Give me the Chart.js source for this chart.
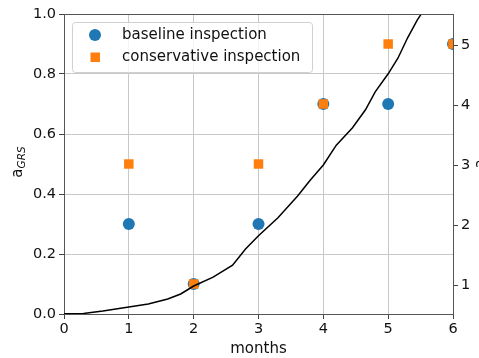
<!DOCTYPE html>
<html>
<head>
<meta charset="utf-8">
<script src="https://cdn.jsdelivr.net/npm/chart.js@4/dist/chart.umd.min.js"></script>
<style>
html,body{margin:0;padding:0;background:#fff;overflow:hidden;}
#wrap{width:479px;height:358px;position:relative;}
</style>
</head>
<body>
<div id="wrap"><canvas id="c" width="479" height="358"></canvas></div>
<script>
// ---- data ----
const months = [1, 2, 3, 4, 5, 6];
const baselineInspection = [0.3, 0.1, 0.3, 0.7, 0.7, 0.9];
const conservativeInspection = [0.5, 0.1, 0.5, 0.7, 0.9, 0.9];
const curveMonths = [0, 0.3, 0.6, 1.0, 1.3, 1.6, 1.8, 2.0, 2.3, 2.6, 2.8, 3.0, 3.3, 3.6, 3.8, 4.0, 4.2, 4.45, 4.65, 4.8, 5.0, 5.15, 5.3, 5.45, 5.55];
const curveValues = [0.52, 0.525, 0.567, 0.633, 0.683, 0.767, 0.85, 0.983, 1.13, 1.33, 1.6, 1.82, 2.12, 2.48, 2.75, 3.0, 3.33, 3.62, 3.92, 4.22, 4.52, 4.78, 5.12, 5.42, 5.58];
const leftTicks = [0, 0.2, 0.4, 0.6, 0.8, 1.0];
const rightTicks = [1, 2, 3, 4, 5];
const xLabel = 'months';
const seriesNames = ['baseline inspection', 'conservative inspection'];

const FONT = "'DejaVu Sans', sans-serif";
const BLUE = '#1f77b4', ORANGE = '#ff7f0e';

const pts = (xs, ys) => xs.map((x, i) => ({x: x, y: ys[i]}));

const extras = {
  id: 'extras',
  afterDatasetsDraw(chart) {
    const ctx = chart.ctx, a = chart.chartArea;
    ctx.save();
    // top spine
    ctx.strokeStyle = '#555'; ctx.lineWidth = 1;
    ctx.beginPath(); ctx.moveTo(a.left, a.top + 0.5); ctx.lineTo(a.right, a.top + 0.5); ctx.stroke();
    // legend
    const lx = 72.5, ly = 22.5, lw = 240, lh = 50, r = 3;
    ctx.fillStyle = 'rgba(255,255,255,0.8)';
    ctx.strokeStyle = '#d0d0d0';
    ctx.beginPath();
    ctx.moveTo(lx + r, ly); ctx.lineTo(lx + lw - r, ly); ctx.arcTo(lx + lw, ly, lx + lw, ly + r, r);
    ctx.lineTo(lx + lw, ly + lh - r); ctx.arcTo(lx + lw, ly + lh, lx + lw - r, ly + lh, r);
    ctx.lineTo(lx + r, ly + lh); ctx.arcTo(lx, ly + lh, lx, ly + lh - r, r);
    ctx.lineTo(lx, ly + r); ctx.arcTo(lx, ly, lx + r, ly, r);
    ctx.closePath(); ctx.fill(); ctx.stroke();
    ctx.fillStyle = BLUE;
    ctx.beginPath(); ctx.arc(95, 35, 6, 0, Math.PI * 2); ctx.fill();
    ctx.fillStyle = ORANGE;
    ctx.fillRect(90.5, 52.5, 9.5, 9.5);
    ctx.fillStyle = '#111';
    ctx.font = '15px ' + FONT;
    ctx.textBaseline = 'middle';
    ctx.fillText(chart.data.datasets[1].label, 122, 35);
    ctx.fillText(chart.data.datasets[2].label, 122, 57);
    // left y title a_GRS
    ctx.save();
    ctx.translate(22, 162);
    ctx.rotate(-Math.PI / 2);
    ctx.textBaseline = 'alphabetic';
    ctx.font = '15px ' + FONT;
    const w1 = ctx.measureText('a').width;
    ctx.font = 'italic 10.5px ' + FONT;
    const w2 = ctx.measureText('GRS').width;
    const sx = -(w1 + w2) / 2;
    ctx.font = '15px ' + FONT;
    ctx.fillText('a', sx, 0);
    ctx.font = 'italic 10.5px ' + FONT;
    ctx.fillText('GRS', sx + w1, 3);
    ctx.restore();
    // right y title (cut off by the edge)
    ctx.save();
    ctx.translate(485, 164);
    ctx.rotate(-Math.PI / 2);
    ctx.textBaseline = 'alphabetic';
    ctx.font = '15px ' + FONT;
    ctx.textAlign = 'center';
    ctx.fillText('a', 0, 0);
    ctx.restore();
    ctx.restore();
  }
};

new Chart(document.getElementById('c'), {
  data: {
    datasets: [
      {type: 'line', label: 'curve', data: pts(curveMonths, curveValues), yAxisID: 'y2',
       borderColor: '#000', borderWidth: 1.5, pointRadius: 0, fill: false, tension: 0, order: 0},
      {type: 'scatter', label: seriesNames[0], data: pts(months, baselineInspection), yAxisID: 'y',
       backgroundColor: BLUE, borderColor: BLUE, pointRadius: 6, pointBorderWidth: 0, pointStyle: 'circle', order: 2},
      {type: 'scatter', label: seriesNames[1], data: pts(months, conservativeInspection), yAxisID: 'y',
       backgroundColor: ORANGE, borderColor: ORANGE, pointRadius: 6.7, pointBorderWidth: 0, pointStyle: 'rect', order: 1}
    ]
  },
  options: {
    responsive: false,
    animation: false,
    layout: {padding: {top: 14, left: 0, right: 0, bottom: 0}},
    plugins: {legend: {display: false}, tooltip: {enabled: false}},
    scales: {
      x: {
        type: 'linear', min: 0, max: 6,
        afterBuildTicks: s => { s.ticks = [0,1,2,3,4,5,6].map(v => ({value: v})); },
        afterFit: s => { s.height = 44; },
        grid: {color: '#c8c8c8', lineWidth: 1, tickLength: 5, tickColor: '#444'},
        border: {color: '#555', width: 1},
        ticks: {color: '#111', font: {family: FONT, size: 14.5}, padding: 2, maxRotation: 0,
                callback: v => String(v)},
        title: {display: true, text: xLabel, color: '#111', font: {family: FONT, size: 15}, padding: {top: 0, bottom: 0}}
      },
      y: {
        type: 'linear', position: 'left', min: 0, max: 1,
        afterBuildTicks: s => { s.ticks = leftTicks.map(v => ({value: v})); },
        afterFit: s => { s.width = 64; },
        grid: {color: '#c8c8c8', lineWidth: 1, tickLength: 5, tickColor: '#444'},
        border: {color: '#555', width: 1},
        ticks: {color: '#111', font: {family: FONT, size: 14.5}, padding: 3, callback: v => v.toFixed(1)}
      },
      y2: {
        type: 'linear', position: 'right', min: 0.5167, max: 5.5167,
        afterBuildTicks: s => { s.ticks = rightTicks.map(v => ({value: v})); },
        afterFit: s => { s.width = 26; },
        grid: {drawOnChartArea: false, tickLength: 5, tickColor: '#444'},
        border: {color: '#555', width: 1},
        ticks: {color: '#111', font: {family: FONT, size: 14.5}, padding: 3, callback: v => String(v)}
      }
    }
  },
  plugins: [extras]
});
</script>
</body>
</html>
